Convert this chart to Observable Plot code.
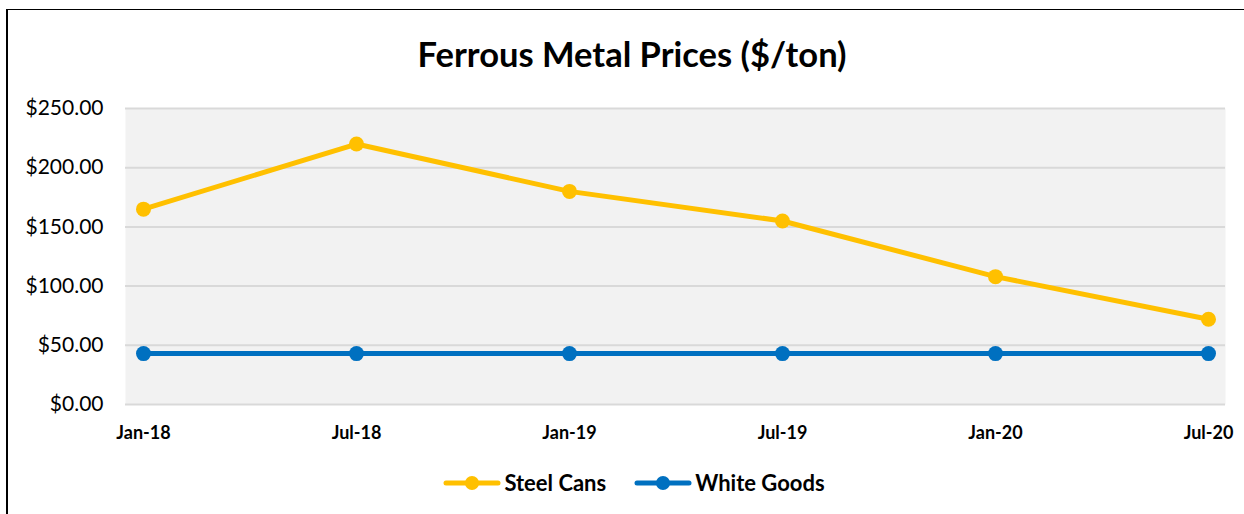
<!DOCTYPE html>
<html>
<head>
<meta charset="utf-8">
<script src="https://cdn.jsdelivr.net/npm/d3@7"></script>
<script src="https://cdn.jsdelivr.net/npm/@observablehq/plot@0.6"></script>
<style>
  html, body { margin: 0; padding: 0; background: #fff; }
  #wrap { position: relative; width: 1244px; height: 514px; overflow: hidden; font-family: Lato, "Noto Sans", sans-serif; }
  #border { position: absolute; left: 6px; top: 9px; width: 1300px; height: 600px; border-left: 2px solid #000; border-top: 1.5px solid #000; box-sizing: border-box; }
  #title { position: absolute; left: 0; width: 1264px; top: 33px; text-align: center; font-size: 34.5px; font-weight: bold; color: #000; }
  #legend { position: absolute; top: 469px; left: 0; width: 1268px; display: flex; justify-content: center; gap: 28px; font-size: 22px; font-weight: bold; color: #000; }
  .item { display: flex; align-items: center; gap: 3px; }
  #chart { position: absolute; left: 0; top: 0; }
</style>
</head>
<body>
<div id="wrap">
  <div id="border"></div>
  <div id="chart"></div>
  <div id="title">Ferrous Metal Prices ($/ton)</div>
  <div id="legend"></div>
</div>
<script>
const categories = ["Jan-18", "Jul-18", "Jan-19", "Jul-19", "Jan-20", "Jul-20"];
const seriesNames = ["Steel Cans", "White Goods"];
const steelCans = [165, 220, 180, 155, 108, 72];
const whiteGoods = [43, 43, 43, 43, 43, 43];
const yTicks = [0, 50, 100, 150, 200, 250];
const colors = ["#FFC000", "#0070C0"];

const data = [];
categories.forEach((c, i) => {
  data.push({date: c, value: steelCans[i], series: seriesNames[0]});
  data.push({date: c, value: whiteGoods[i], series: seriesNames[1]});
});

const chart = Plot.plot({
  width: 1244,
  height: 514,
  marginLeft: 125,
  marginRight: 19,
  marginTop: 108,
  marginBottom: 110,
  style: {fontFamily: "Lato, 'Noto Sans', sans-serif", color: "#000", background: "transparent"},
  x: {type: "point", domain: categories, padding: 0, inset: 16, label: null},
  y: {domain: [0, 250], label: null},
  color: {domain: seriesNames, range: colors},
  marks: [
    Plot.frame({fill: "#F2F2F2", stroke: null}),
    Plot.gridY(yTicks, {stroke: "#D9D9D9", strokeOpacity: 1, strokeWidth: 2}),
    Plot.axisY({ticks: yTicks, tickSize: 0, tickPadding: 22, fontSize: 21, tickFormat: d => "$" + d.toFixed(2), label: null}),
    Plot.axisX({tickSize: 0, tickPadding: 22, fontSize: 18, fontWeight: "bold", label: null}),
    Plot.line(data, {x: "date", y: "value", stroke: "series", strokeWidth: 5, z: "series"}),
    Plot.dot(data, {x: "date", y: "value", fill: "series", r: 7.5, stroke: null})
  ]
});
document.getElementById("chart").appendChild(chart);

const legend = document.getElementById("legend");
seriesNames.forEach((name, i) => {
  const item = document.createElement("div");
  item.className = "item";
  item.innerHTML = `<svg width="58" height="16"><line x1="3" y1="8" x2="55" y2="8" stroke="${colors[i]}" stroke-width="5" stroke-linecap="round"/><circle cx="29" cy="8" r="7" fill="${colors[i]}"/></svg><span>${name}</span>`;
  legend.appendChild(item);
});
</script>
</body>
</html>
